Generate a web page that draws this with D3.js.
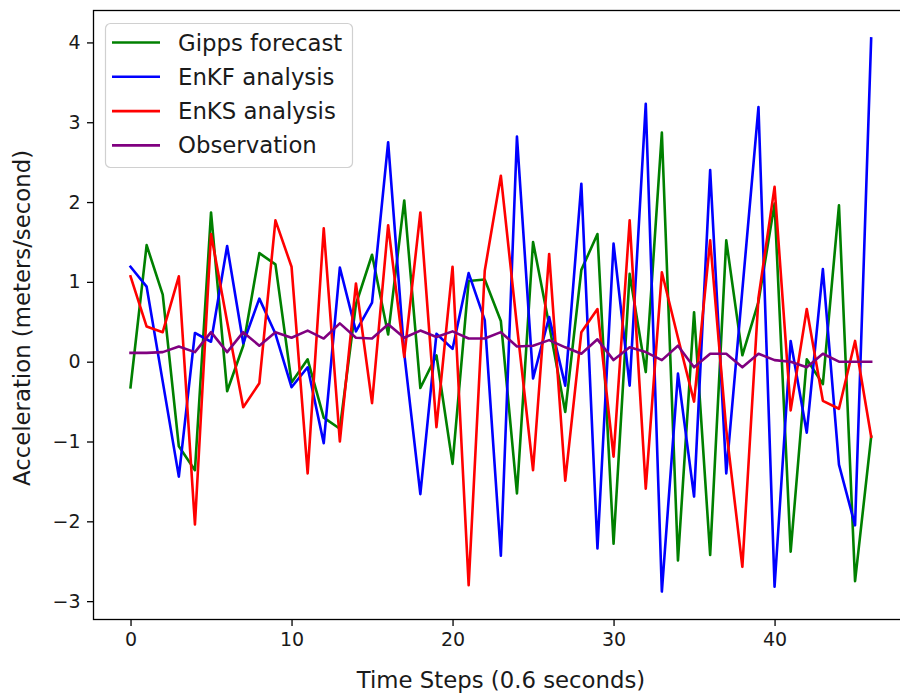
<!DOCTYPE html>
<html>
<head>
<meta charset="utf-8">
<script src="https://cdn.jsdelivr.net/npm/d3@7"></script>
<style>
  html, body { margin: 0; padding: 0; background: #fff; }
  svg { display: block; font-family: "DejaVu Sans", sans-serif; }
</style>
</head>
<body>
<svg id="chart" width="900" height="694"></svg>
<script>
// ---- data ----
const steps = d3.range(0, 47);
const gipps = [-0.32, 1.46, 0.84, -1.06, -1.36, 1.87, -0.37, 0.2, 1.36, 1.22,
  -0.26, 0.03, -0.70, -0.84, 0.72, 1.34, 0.34, 2.02, -0.33, 0.08,
  -1.28, 1.01, 1.03, 0.51, -1.65, 1.5, 0.46, -0.63, 1.15, 1.6,
  -2.28, 1.1, -0.13, 2.87, -2.49, 0.62, -2.42, 1.52, 0.08, 0.75,
  1.98, -2.38, 0.03, -0.28, 1.96, -2.75, -0.94];
const enkf = [1.19, 0.94, -0.25, -1.44, 0.36, 0.25, 1.45, 0.23, 0.79, 0.35,
  -0.32, -0.07, -1.02, 1.18, 0.38, 0.74, 2.75, 0.1, -1.66, 0.35,
  0.16, 1.11, 0.52, -2.43, 2.82, -0.21, 0.56, -0.3, 2.23, -2.34,
  1.48, -0.3, 3.23, -2.88, -0.15, -1.69, 2.4, -1.4, 0.9, 3.19,
  -2.82, 0.26, -0.89, 1.16, -1.29, -2.05, 4.05];
const enks = [1.07, 0.44, 0.37, 1.07, -2.04, 1.6, 0.5, -0.57, -0.27, 1.77,
  1.19, -1.4, 1.67, -1.0, 0.98, -0.52, 1.71, 0.06, 1.87, -0.82,
  1.19, -2.8, 1.14, 2.33, 0.45, -1.36, 1.35, -1.49, 0.37, 0.66,
  -1.19, 1.77, -1.59, 1.12, 0.3, -0.5, 1.52, -0.85, -2.57, 0.8,
  2.19, -0.61, 0.66, -0.49, -0.59, 0.26, -0.94];
const observation = [0.11, 0.11, 0.12, 0.19, 0.12, 0.37, 0.12, 0.37, 0.2, 0.37,
  0.3, 0.39, 0.29, 0.48, 0.3, 0.29, 0.47, 0.3, 0.39, 0.31,
  0.38, 0.29, 0.29, 0.37, 0.19, 0.2, 0.27, 0.18, 0.1, 0.28,
  0.02, 0.18, 0.12, 0.02, 0.2, -0.07, 0.1, 0.1, -0.07, 0.1,
  0.02, 0.0, -0.07, 0.1, 0.0, 0.0, 0.0];
const seriesNames = ["Gipps forecast", "EnKF analysis", "EnKS analysis", "Observation"];
const seriesColors = ["green", "blue", "red", "purple"];
const xTicks = [0, 10, 20, 30, 40];
const yTicks = [-3, -2, -1, 0, 1, 2, 3, 4];
const xLabel = "Time Steps (0.6 seconds)";
const yLabel = "Acceleration (meters/second)";

// ---- layout ----
const pLeft = 93.5, pRight = 908.2, pTop = 10.5, pBottom = 619.5;
const svg = d3.select("#chart");

const x = d3.scaleLinear().domain([-2.3, 48.3]).range([pLeft, pRight]);
const y = d3.scaleLinear().domain([-3.23, 4.40]).range([pBottom, pTop]);

const fmt = d => (d < 0 ? "\u2212" + Math.abs(d) : String(d));

// lines
const seriesData = [gipps, enkf, enks, observation];
const line = d3.line().x((d, i) => x(steps[i])).y(d => y(d));
const plot = svg.append("g");
seriesData.forEach((s, k) => {
  plot.append("path")
    .datum(s)
    .attr("fill", "none")
    .attr("stroke", seriesColors[k])
    .attr("stroke-width", 2.6)
    .attr("stroke-linejoin", "round")
    .attr("stroke-linecap", "square")
    .attr("d", line);
});

// axes
const xAxis = d3.axisBottom(x).tickValues(xTicks).tickFormat(fmt).tickSize(6.5).tickPadding(6.5);
const yAxis = d3.axisLeft(y).tickValues(yTicks).tickFormat(fmt).tickSize(6.5).tickPadding(6.5);

const gx = svg.append("g").attr("transform", `translate(0,${pBottom})`).call(xAxis);
const gy = svg.append("g").attr("transform", `translate(${pLeft},0)`).call(yAxis);
[gx, gy].forEach(g => {
  g.select(".domain").remove();
  g.selectAll("line").attr("stroke", "#000").attr("stroke-width", 1.3);
  g.selectAll("text").attr("fill", "#1a1a1a").style("font-size", "19px").style("font-family", "DejaVu Sans");
});

// frame
svg.append("rect")
  .attr("x", pLeft).attr("y", pTop)
  .attr("width", pRight - pLeft).attr("height", pBottom - pTop)
  .attr("fill", "none").attr("stroke", "#000").attr("stroke-width", 1.3);

// axis labels
svg.append("text")
  .attr("x", 501).attr("y", 688)
  .attr("text-anchor", "middle")
  .style("font-size", "22.8px").attr("fill", "#1a1a1a")
  .text(xLabel);
svg.append("text")
  .attr("transform", `translate(30,318) rotate(-90)`)
  .attr("text-anchor", "middle")
  .style("font-size", "22.8px").attr("fill", "#1a1a1a")
  .text(yLabel);

// legend
const lg = svg.append("g").attr("transform", "translate(105,23)");
lg.append("rect")
  .attr("x", 0.5).attr("y", 0.5).attr("width", 247).attr("height", 144)
  .attr("rx", 5).attr("ry", 5)
  .attr("fill", "#fff").attr("fill-opacity", 0.8)
  .attr("stroke", "#d0d0d0").attr("stroke-width", 1.2);
seriesNames.forEach((name, k) => {
  const yy = 19.5 + k * 34.3;
  lg.append("line")
    .attr("x1", 7).attr("x2", 55).attr("y1", yy).attr("y2", yy)
    .attr("stroke", seriesColors[k]).attr("stroke-width", 2.6);
  lg.append("text")
    .attr("x", 73).attr("y", yy + 8)
    .style("font-size", "22.8px").attr("fill", "#1a1a1a")
    .text(name);
});
</script>
</body>
</html>
